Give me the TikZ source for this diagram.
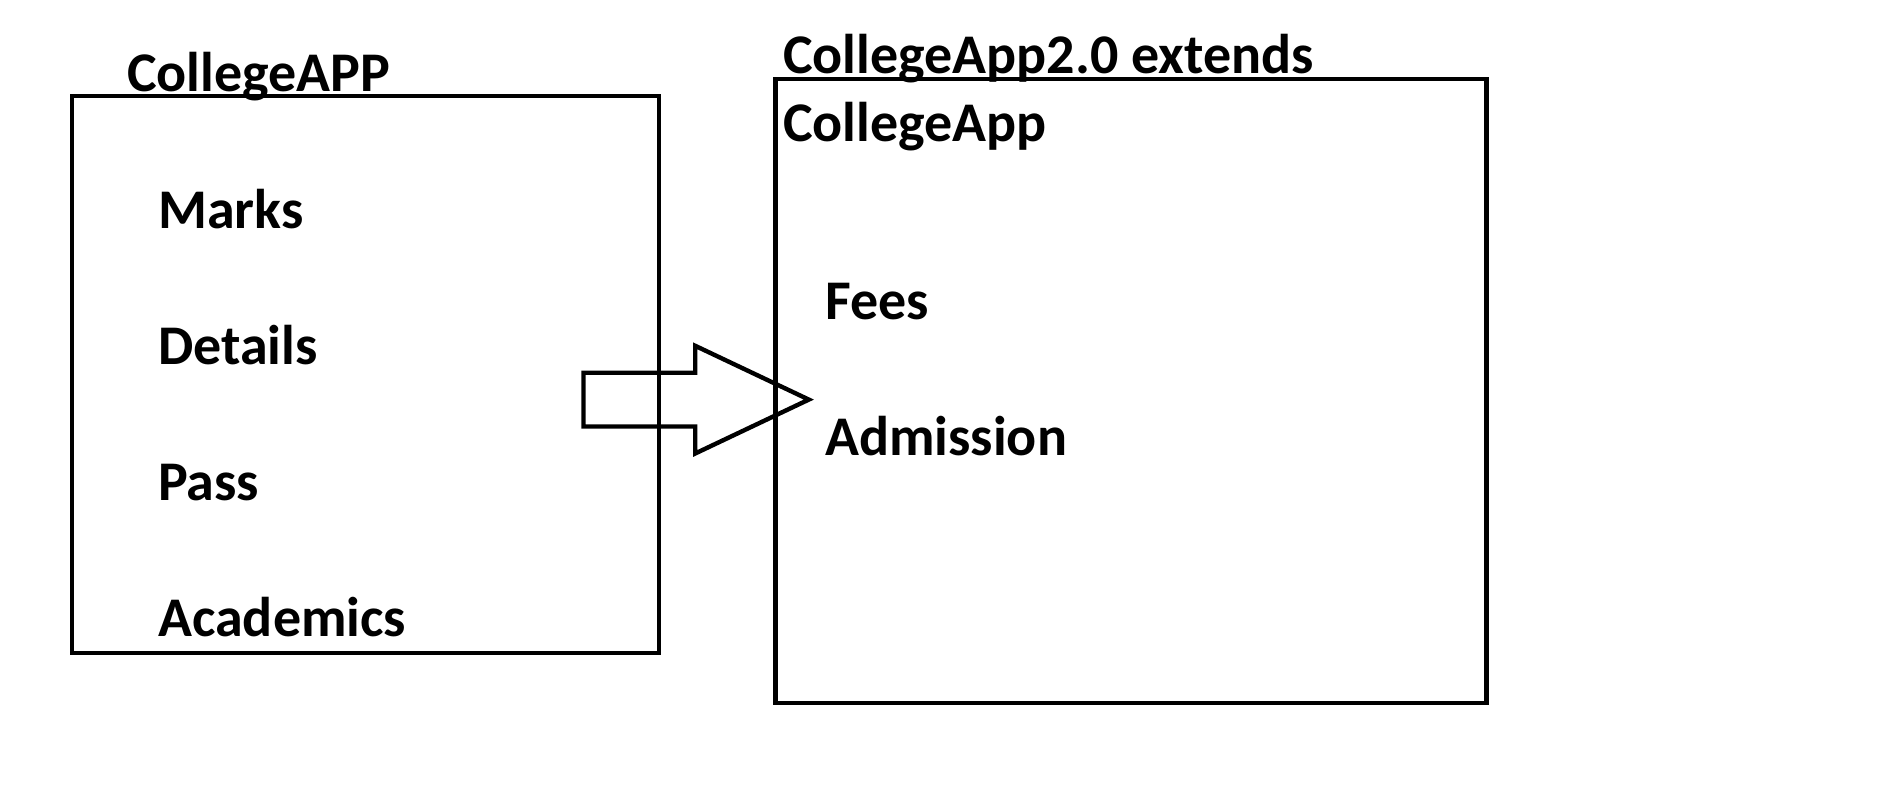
\documentclass[tikz,border=0pt]{standalone}
\usepackage{fontspec}
\setmainfont{Carlito}
\begin{document}
\begin{tikzpicture}[x=1pt,y=-1pt,
  box/.style={draw=black,line width=4.4pt,inner sep=0pt,outer sep=0pt},
  lbl/.style={anchor=base west,inner sep=0pt,font=\fontsize{56}{60}\selectfont\bfseries},
  blockarrow/.style={draw=black,line width=4.4pt,line join=miter,fill=none}]
\useasboundingbox (0,0) rectangle (1903,787);
\node[box,minimum width=587pt,minimum height=557pt] (leftbox) at (365.3,374.5) {};
\node[box,minimum width=711pt,minimum height=624pt] (rightbox) at (1131.1,390.8) {};
\node[lbl] (t1) at (127,91) {CollegeAPP};
\node[lbl] (m) at (158,228) {Marks};
\node[lbl] (d) at (158,364) {Details};
\node[lbl] (p) at (158,500) {Pass};
\node[lbl] (a) at (158,636) {Academics};
\node[lbl] (t2) at (783,73) {CollegeApp2.0 extends};
\node[lbl] (t3) at (783,141) {CollegeApp};
\node[lbl] (f) at (825,319) {Fees};
\node[lbl] (ad) at (825,455) {Admission};
\coordinate (tailtop) at (583.5,372.7);
\coordinate (tailbot) at (583.5,426.5);
\coordinate (necktop) at (695.2,372.7);
\coordinate (neckbot) at (695.2,426.5);
\coordinate (headtop) at (695.2,345.8);
\coordinate (headbot) at (695.2,453.5);
\coordinate (tip) at (808.8,399.6);
\draw[blockarrow] (tailtop) -- (necktop) -- (headtop) -- (tip) -- (headbot) -- (neckbot) -- (tailbot) -- cycle;
\end{tikzpicture}
\end{document}
